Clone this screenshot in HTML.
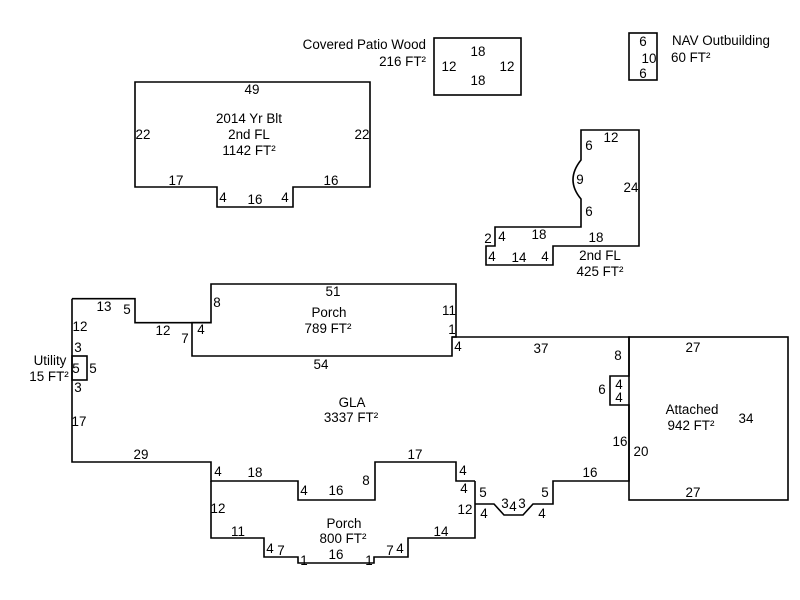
<!DOCTYPE html>
<html><head><meta charset="utf-8"><style>
html,body{margin:0;padding:0;background:#fff;}
svg{display:block;}
text{font-family:"Liberation Sans",Arial,sans-serif;font-size:13.4px;fill:#000;text-anchor:middle;}
.l{text-anchor:start}.r{text-anchor:end}
</style></head><body>
<svg width="800" height="600" viewBox="0 0 800 600" xmlns="http://www.w3.org/2000/svg">
<g fill="none" stroke="#000" stroke-width="1.6">
<polygon points="135,82 370,82 370,187 293,187 293,207 217,207 217,187 135,187"/>
<rect x="434" y="38" width="87" height="57"/>
<rect x="629" y="33" width="28" height="47"/>
<path d="M581,130 L639,130 L639,246 L553,246 L553,265 L486,265 L486,246 L495,246 L495,227 L581,227 L581,199 Q565,180 581,160 Z"/>
<!-- GLA -->
<path d="M72,298.7 L135,298.7 L135,322.7 L211,322.7"/>
<path d="M452,337 L629,337 L629,376 L610,376 L610,405 L629,405 L629,481 L553,481 L553,504 L533,504 L523,515 L504,515 L494,504 L475,504"/>
<path d="M475,481 L456,481 L456,462 L375,462 L375,500 L298,500 L298,481 L211,481 L211,462 L72,462 L72,298.7"/>
<!-- porch top -->
<polygon points="211,284 456,284 456,337 452,337 452,356 192,356 192,322.7 211,322.7"/>
<rect x="72" y="356" width="15" height="24"/>
<rect x="629" y="337" width="159" height="163"/>
<path d="M211,481 L211,538 L264,538 L264,557 L298,557 L298,563 L374,563 L374,557 L408,557 L408,538 L475,538 L475,481"/>
</g>
<text x="252" y="94">49</text>
<text x="143" y="139">22</text>
<text x="362" y="139">22</text>
<text x="249" y="123">2014 Yr Blt</text>
<text x="249" y="139">2nd FL</text>
<text x="249" y="155">1142 FT²</text>
<text x="176" y="185">17</text>
<text x="331" y="185">16</text>
<text x="223" y="202">4</text>
<text x="255" y="204">16</text>
<text x="285" y="202">4</text>
<text class="r" x="426" y="49">Covered Patio Wood</text>
<text class="r" x="426" y="66">216 FT²</text>
<text x="478" y="56">18</text>
<text x="478" y="85">18</text>
<text x="449" y="71">12</text>
<text x="507" y="71">12</text>
<text x="643" y="46">6</text>
<text x="649" y="63">10</text>
<text x="643" y="78">6</text>
<text class="l" x="672" y="45">NAV Outbuilding</text>
<text class="l" x="671" y="62">60 FT²</text>
<text x="611" y="142">12</text>
<text x="589" y="150">6</text>
<text x="580" y="184">9</text>
<text x="631" y="192">24</text>
<text x="589" y="216">6</text>
<text x="539" y="239">18</text>
<text x="596" y="242">18</text>
<text x="488" y="243">2</text>
<text x="502" y="241">4</text>
<text x="492" y="261">4</text>
<text x="519" y="262">14</text>
<text x="545" y="261">4</text>
<text x="600" y="260">2nd FL</text>
<text x="600" y="276">425 FT²</text>
<text x="333" y="296">51</text>
<text x="217" y="307">8</text>
<text x="449" y="315">11</text>
<text x="452" y="334">1</text>
<text x="329" y="317">Porch</text>
<text x="328" y="333">789 FT²</text>
<text x="201" y="334">4</text>
<text x="458" y="351">4</text>
<text x="321" y="369">54</text>
<text x="104" y="311">13</text>
<text x="127" y="314">5</text>
<text x="80" y="331">12</text>
<text x="163" y="335">12</text>
<text x="185" y="343">7</text>
<text x="78" y="352">3</text>
<text x="50" y="365">Utility</text>
<text x="49" y="381">15 FT²</text>
<text x="76" y="373">5</text>
<text x="93" y="373">5</text>
<text x="78" y="392">3</text>
<text x="79" y="426">17</text>
<text x="352" y="407">GLA</text>
<text x="351" y="422">3337 FT²</text>
<text x="541" y="353">37</text>
<text x="618" y="360">8</text>
<text x="602" y="394">6</text>
<text x="619" y="389">4</text>
<text x="619" y="402">4</text>
<text x="620" y="446">16</text>
<text x="141" y="459">29</text>
<text x="415" y="459">17</text>
<text x="218" y="476">4</text>
<text x="255" y="477">18</text>
<text x="463" y="475">4</text>
<text x="366" y="485">8</text>
<text x="304" y="495">4</text>
<text x="336" y="495">16</text>
<text x="464" y="493">4</text>
<text x="590" y="477">16</text>
<text x="483" y="497">5</text>
<text x="545" y="497">5</text>
<text x="505" y="508">3</text>
<text x="513" y="511">4</text>
<text x="522" y="508">3</text>
<text x="465" y="514">12</text>
<text x="484" y="518">4</text>
<text x="542" y="518">4</text>
<text x="693" y="352">27</text>
<text x="692" y="414">Attached</text>
<text x="691" y="430">942 FT²</text>
<text x="746" y="423">34</text>
<text x="641" y="456">20</text>
<text x="693" y="497">27</text>
<text x="218" y="513">12</text>
<text x="238" y="536">11</text>
<text x="344" y="528">Porch</text>
<text x="343" y="543">800 FT²</text>
<text x="441" y="536">14</text>
<text x="270" y="553">4</text>
<text x="281" y="555">7</text>
<text x="336" y="559">16</text>
<text x="304" y="565">1</text>
<text x="369" y="565">1</text>
<text x="390" y="555">7</text>
<text x="400" y="553">4</text>
</svg>
</body></html>
